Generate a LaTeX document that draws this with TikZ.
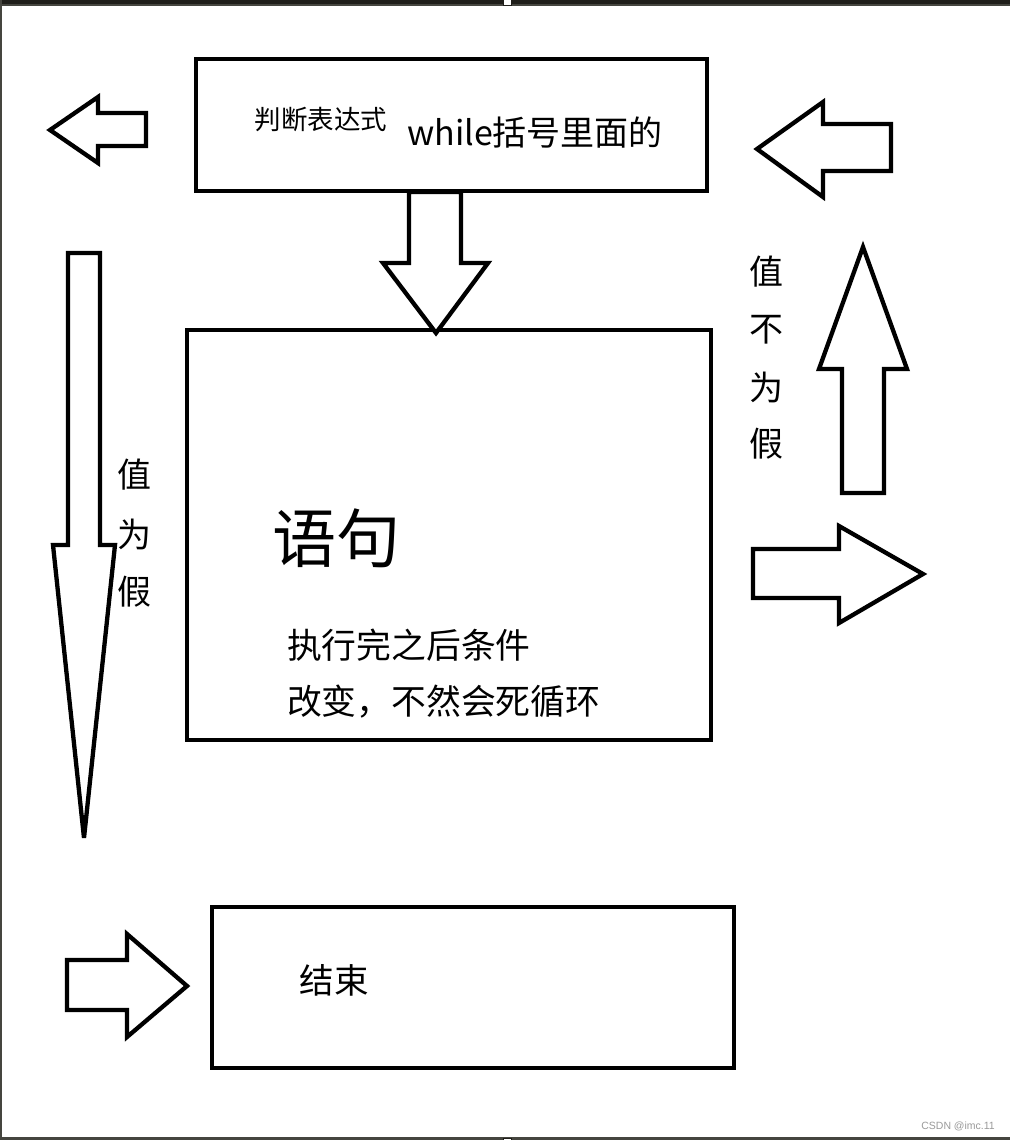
\documentclass[tikz,border=0pt]{standalone}
\usepackage{fontspec}
\newfontfamily\cjk{Noto Sans CJK SC}
\newfontfamily\wmfont{Liberation Sans}
\definecolor{barc}{HTML}{1F1E1A}
\definecolor{barg}{HTML}{45453F}
\definecolor{wmc}{HTML}{9A9A9A}
\tikzset{
  shp/.style={draw=black, line width=4.3pt, line join=miter, miter limit=3, fill=white},
  txt/.style={inner sep=0pt, outer sep=0pt, text=black, font=\cjk},
}
\begin{document}
\begin{tikzpicture}[x=1pt,y=-1pt]
\useasboundingbox (0,0) rectangle (1010,1140);
\fill[white] (0,0) rectangle (1010,1140);
% window frame
\fill[barc] (0,0) rectangle (1010,4.5);
\fill[barg] (0,4.5) rectangle (1010,6.5);
\fill[barg] (0,0) rectangle (1.5,1140);
\fill[barg] (0,1137.3) rectangle (1010,1140);
\filldraw[fill=white,draw=barc,line width=1pt] (503,0) rectangle (511,5.5);
\filldraw[fill=white,draw=barc,line width=1pt] (503,1138.5) rectangle (511,1141);

% boxes
\draw[shp] (196,59) rectangle (707,191);
\draw[shp] (187,330) rectangle (711,740);
\draw[shp] (212,907) rectangle (734,1068);

% down arrow between boxes
\draw[shp] (409,192) -- (461,192) -- (461,263) -- (488,263) -- (436,333) -- (383,263) -- (409,263) -- cycle;

% top-left arrow (left)
\draw[shp] (50,130) -- (98,97) -- (98,113) -- (146,113) -- (146,146) -- (98,146) -- (98,163) -- cycle;

% top-right arrow (left)
\draw[shp] (757,149) -- (823,102) -- (823,124) -- (891,124) -- (891,171) -- (823,171) -- (823,197) -- cycle;

% long down arrow (left)
\draw[shp] (68,253) -- (100,253) -- (100,545) -- (115,545) -- (84,838) -- (53,545) -- (68,545) -- cycle;

% up arrow (right)
\draw[shp] (863,247) -- (907,369) -- (884,369) -- (884,493) -- (842,493) -- (842,369) -- (819,369) -- cycle;

% right arrow (mid right)
\draw[shp] (753,549) -- (839,549) -- (839,526) -- (923,574) -- (839,623) -- (839,598) -- (753,598) -- cycle;

% bottom-left arrow (right)
\draw[shp] (67,960) -- (127,960) -- (127,934) -- (187,986) -- (127,1037) -- (127,1010) -- (67,1010) -- cycle;

% texts
\node[txt, font=\cjk\fontsize{26.5}{30}\selectfont] (t1) at (321,119) {判断表达式};
\node[txt, font=\cjk\fontsize{34}{40}\selectfont] (t2) at (535,133) {while括号里面的};
\node[txt, font=\cjk\fontsize{64}{70}\selectfont] (t3) at (336,538) {语句};
\node[txt, anchor=west, font=\cjk\fontsize{34.8}{40}\selectfont] (t4) at (287,645) {执行完之后条件};
\node[txt, anchor=west, font=\cjk\fontsize{34.8}{40}\selectfont] (t5) at (287,702) {改变，不然会死循环};
\node[txt, font=\cjk\fontsize{34.5}{40}\selectfont] (t6) at (334,980) {结束};

\node[txt, font=\cjk\fontsize{34}{40}\selectfont] (f1) at (134,475) {值};
\node[txt, font=\cjk\fontsize{34}{40}\selectfont] (f2) at (134,534) {为};
\node[txt, font=\cjk\fontsize{34}{40}\selectfont] (f3) at (134,592) {假};

\node[txt, font=\cjk\fontsize{34}{40}\selectfont] (n1) at (766,272) {值};
\node[txt, font=\cjk\fontsize{34}{40}\selectfont] (n2) at (766,330) {不};
\node[txt, font=\cjk\fontsize{34}{40}\selectfont] (n3) at (766,387) {为};
\node[txt, font=\cjk\fontsize{34}{40}\selectfont] (n4) at (766,444) {假};

\node[inner sep=0pt, anchor=east, text=wmc, font=\wmfont\fontsize{10.5}{12}\selectfont] (wm) at (995,1126) {CSDN @imc.11};
\end{tikzpicture}
\end{document}
